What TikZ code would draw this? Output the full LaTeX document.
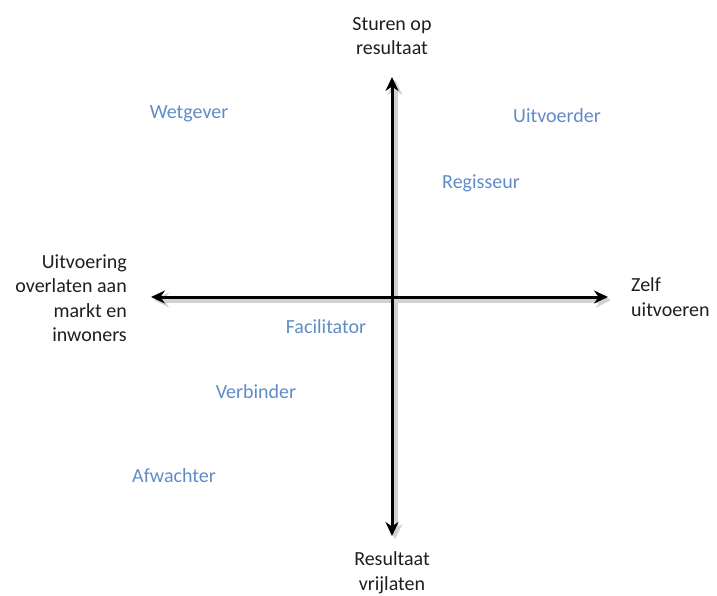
\documentclass[tikz,border=0pt]{standalone}
\usepackage{fontspec}
\setmainfont{Carlito}
\usetikzlibrary{arrows.meta}
\definecolor{rolblue}{RGB}{95,140,200}
\definecolor{axtext}{RGB}{30,30,30}
\begin{document}
\begin{tikzpicture}[x=1pt,y=-1pt,
  axislabel/.style={text=axtext,font=\fontsize{20}{24.5}\selectfont,inner sep=0pt},
  role/.style={text=rolblue,font=\fontsize{20}{23}\selectfont,inner sep=0pt},
  axisline/.style={line width=3pt,black,-{Stealth[length=14pt,width=13pt]}},
  shadowline/.style={line width=5pt,black!18,-{Stealth[length=15pt,width=15pt]}}]
\useasboundingbox (0,0) rectangle (717,596);
\coordinate (c) at (392,297);
\coordinate (top) at (392,77);
\coordinate (bot) at (392,536);
\coordinate (lft) at (151,297);
\coordinate (rgt) at (608,297);
% shadows
\draw[shadowline] ([shift={(3,3)}]c) -- ([shift={(3,3)}]top);
\draw[shadowline] ([shift={(3,3)}]c) -- ([shift={(3,3)}]bot);
\draw[shadowline] ([shift={(3,3)}]c) -- ([shift={(3,3)}]lft);
\draw[shadowline] ([shift={(3,3)}]c) -- ([shift={(3,3)}]rgt);
% axes
\draw[axisline] (c) -- (top);
\draw[axisline] (c) -- (bot);
\draw[axisline] (c) -- (lft);
\draw[axisline] (c) -- (rgt);
% axis labels
\node[axislabel,align=center,anchor=center] (n) at (392,36) {Sturen op\\resultaat};
\node[axislabel,align=center,anchor=center] (s) at (392,573) {Resultaat\\vrijlaten};
\node[axislabel,align=right,anchor=east] (w) at (127,298) {Uitvoering\\overlaten aan\\markt en\\inwoners};
\node[axislabel,align=left,anchor=west] (e) at (631,297) {Zelf\\uitvoeren};
% roles
\node[role] (wetgever) at (189,114) {Wetgever};
\node[role] (uitvoerder) at (557,116) {Uitvoerder};
\node[role] (regisseur) at (481,183) {Regisseur};
\node[role] (facilitator) at (326,327) {Facilitator};
\node[role] (verbinder) at (256,392) {Verbinder};
\node[role] (afwachter) at (174,476) {Afwachter};
\end{tikzpicture}
\end{document}
